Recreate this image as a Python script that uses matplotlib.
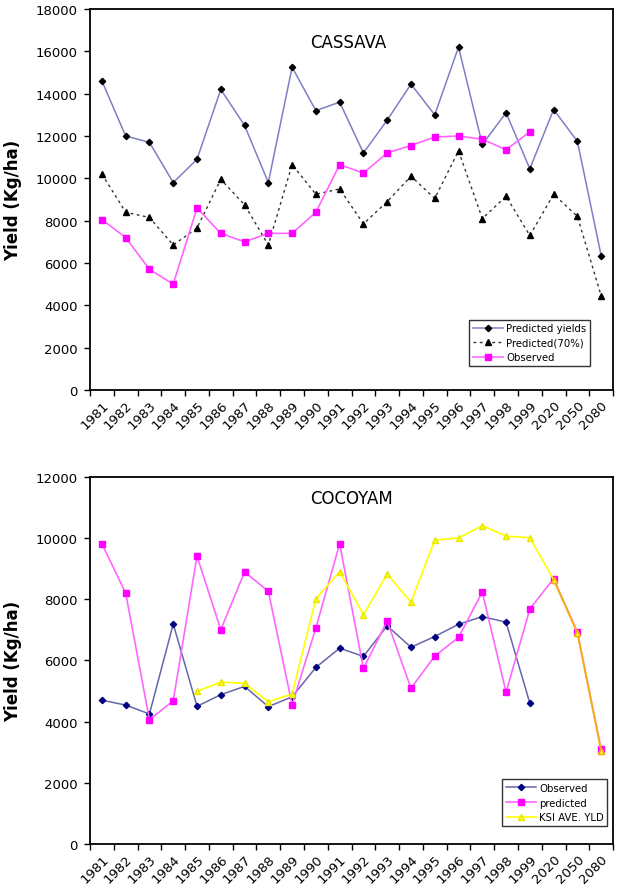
import numpy as np
import matplotlib
matplotlib.use("Agg")
import matplotlib.pyplot as plt
import matplotlib.transforms as mtransforms
from matplotlib.ticker import FixedLocator, NullFormatter

# ── Data ────────────────────────────────────────────────────────────────────
years = [str(y) for y in range(1981, 2000)] + ["2020", "2050", "2080"]

cassava_pred = [14600, 12000, 11700, 9800, 10900, 14200, 12500, 9800, 15250, 13200,
                13600, 11200, 12750, 14450, 13000, 16200, 11600, 13100, 10450,
                13250, 11750, 6350]
cassava_pred70 = [10200, 8400, 8150, 6850, 7650, 9950, 8750, 6850, 10650, 9250,
                  9500, 7850, 8900, 10100, 9050, 11300, 8100, 9150, 7300,
                  9250, 8200, 4450]
cassava_obs = [8050, 7200, 5700, 5000, 8600, 7400, 7000, 7400, 7400, 8400,
               10650, 10250, 11200, 11550, 11950, 12000, 11850, 11350, 12200]

cocoyam_obs = [4700, 4540, 4250, 7190, 4500, 4880, 5150, 4490, 4810, 5770,
               6400, 6130, 7130, 6430, 6780, 7180, 7430, 7250, 4600]
cocoyam_pred = [9810, 8200, 4060, 4680, 9410, 7000, 8890, 8260, 4550, 7060,
                9810, 5740, 7280, 5090, 6140, 6750, 8230, 4960, 7680,
                8670, 6930, 3100]
cocoyam_ksi = [np.nan, np.nan, np.nan, np.nan, 4990, 5290, 5250, 4650, 4900, 8010,
               8900, 7490, 8820, 7900, 9930, 10000, 10400, 10060, 10010,
               8640, 6900, 3050]

plt.rcParams.update({
    "font.family": ["DejaVu Sans"],
    "font.size": 9,
})

fig = plt.figure(figsize=(6.17, 8.87), dpi=100)
ax1 = fig.add_axes([0.1459, 0.5592, 0.8477, 0.4295])
ax2 = fig.add_axes([0.1459, 0.0473, 0.8477, 0.4141])

x = np.arange(len(years)) + 0.5


def _style(ax, ymax, step):
    ax.set_xlim(0, len(years))
    ax.set_ylim(0, ymax)
    ax.set_yticks(np.arange(0, ymax + 1, step))
    ax.tick_params(axis="y", direction="out", length=4, width=1, labelsize=9.5, pad=5)
    # category boundaries carry the tick marks, centres carry the labels
    ax.xaxis.set_major_locator(FixedLocator(np.arange(len(years) + 1)))
    ax.xaxis.set_major_formatter(NullFormatter())
    ax.xaxis.set_minor_locator(FixedLocator(x))
    ax.set_xticklabels(years, minor=True, rotation=45, ha="right",
                       rotation_mode="anchor", fontsize=9.5)
    shift = mtransforms.ScaledTranslation(-6 / 100, 0, fig.dpi_scale_trans)
    for lab in ax.get_xticklabels(minor=True):
        lab.set_transform(lab.get_transform() + shift)
    ax.tick_params(axis="x", which="major", direction="out", length=4, width=1)
    ax.tick_params(axis="x", which="minor", length=0, pad=6)
    for s in ax.spines.values():
        s.set_linewidth(1.3)
        s.set_color("black")
    ax.set_ylabel("Yield (Kg/ha)", fontsize=12, fontweight="bold")
    ax.yaxis.set_label_coords(-0.13, 0.5)


# ── CASSAVA ─────────────────────────────────────────────────────────────────
_style(ax1, 18000, 2000)
ax1.plot(x, cassava_pred, color="#7F7FC4", lw=1.1, marker="D", ms=3.2,
         mfc="black", mec="black", label="Predicted yields")
ax1.plot(x, cassava_pred70, color="#333333", lw=1.0, ls=(0, (2, 2.5)), marker="^",
         ms=4.2, mfc="black", mec="black", label="Predicted(70%)")
ax1.plot(x[:len(cassava_obs)], cassava_obs, color="#FF66FF", lw=1.2, marker="s",
         ms=4.5, mfc="#FF00FF", mec="#FF00FF", label="Observed")
ax1.text(0.493, 0.914, "CASSAVA", transform=ax1.transAxes, ha="center",
         va="center", fontsize=12)
leg1 = ax1.legend(loc="lower left", bbox_to_anchor=(0.725, 0.063), fontsize=7.3,
                  frameon=True, fancybox=False, edgecolor="black",
                  handlelength=3.0, borderpad=0.35, labelspacing=0.45,
                  handletextpad=0.3, borderaxespad=0)
leg1.get_frame().set_linewidth(1.0)

# ── COCOYAM ─────────────────────────────────────────────────────────────────
_style(ax2, 12000, 2000)
ax2.plot(x[:len(cocoyam_obs)], cocoyam_obs, color="#6666AA", lw=1.1, marker="D",
         ms=3.2, mfc="#000080", mec="#000080", label="Observed")
ax2.plot(x, cocoyam_pred, color="#FF66FF", lw=1.2, marker="s", ms=4.5,
         mfc="#FF00FF", mec="#FF00FF", label="predicted")
ax2.plot(x, cocoyam_ksi, color="#FFFF00", lw=1.2, marker="^", ms=4.5,
         mfc="#FFFF00", mec="#E6E600", label="KSI AVE. YLD")
# last three points coincide with the predicted series: the overlap shows orange
ax2.plot(x[-3:], cocoyam_ksi[-3:], color="#F5A623", lw=1.3, zorder=3)
ax2.plot(x[-3:], cocoyam_ksi[-3:], ls="none", marker="^", ms=4, mfc="#FFFF00",
         mec="#F5A623", zorder=4)
ax2.text(0.50, 0.943, "COCOYAM", transform=ax2.transAxes, ha="center",
         va="center", fontsize=12)
leg2 = ax2.legend(loc="lower left", bbox_to_anchor=(0.788, 0.05), fontsize=7.3,
                  frameon=True, fancybox=False, edgecolor="black",
                  handlelength=3.0, borderpad=0.35, labelspacing=0.45,
                  handletextpad=0.3, borderaxespad=0)
leg2.get_frame().set_linewidth(1.0)

fig.savefig("out.png", dpi=100, facecolor="white")
